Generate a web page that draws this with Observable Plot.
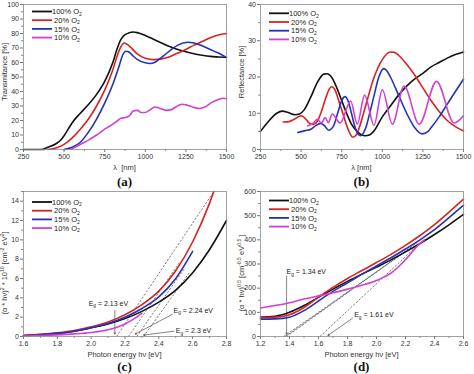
<!DOCTYPE html>
<html>
<head>
<meta charset="utf-8">
<script src="https://cdn.jsdelivr.net/npm/d3@7"></script>
<script src="https://cdn.jsdelivr.net/npm/@observablehq/plot@0.6"></script>
<style>
html, body { margin: 0; padding: 0; background: #fff; }
#root { position: relative; width: 474px; height: 374px; overflow: hidden; }
#root svg { position: absolute; overflow: visible; }
</style>
</head>
<body>
<div id="root"></div>
<script>
// ---------- legend / series ----------
const seriesLabels = ["100% O", " 20% O", " 15% O", " 10% O"];
const seriesColors = ["#111111", "#d82222", "#2233b8", "#d23fd2"];

// ---------- (a) transmittance vs wavelength ----------
const trans100 = [[250,0],[350,0],[375,0.4],[400,1.5],[450,4],[475,6],[500,9.5],[525,14],[550,18.5],[600,25],[650,31],[700,38],[750,47],[800,60],[825,69],[850,76],[875,79.2],[900,80.5],[925,81],[950,80.6],[1000,78.6],[1050,76],[1100,73.5],[1150,71],[1200,69],[1250,67.4],[1300,66],[1350,65],[1400,64.2],[1450,63.8],[1500,63.5]];
const trans20 = [[400,0],[450,1],[500,3.5],[550,8],[600,14],[650,21],[700,30],[750,41],[800,55],[825,64],[850,71],[870,73.5],[900,71.5],[950,66],[1000,63],[1050,62],[1100,62.5],[1150,64],[1200,66.5],[1250,69],[1300,72],[1350,74.5],[1400,77],[1450,79],[1500,80]];
const trans15 = [[500,0],[550,1.5],[600,5],[650,12],[700,21],[750,32],[800,45],[840,58],[860,65],[880,67.8],[900,67.2],[925,64.5],[950,62.2],[1000,59.8],[1030,59.3],[1060,60.2],[1100,63.5],[1150,68],[1200,72],[1260,74],[1300,73.5],[1350,71.5],[1400,69],[1450,66.5],[1500,63.5]];
const trans10 = [[540,0],[575,2],[600,3.5],[650,6.5],[700,10],[750,14],[800,17.5],[825,19.5],[850,21.5],[875,22],[900,23],[925,26.5],[950,27],[975,25.5],[1000,25.5],[1025,27],[1060,29.3],[1100,28],[1130,27],[1160,27.5],[1190,29.5],[1225,31.2],[1260,30.5],[1300,29],[1335,28.3],[1370,29.5],[1410,32.5],[1450,34.5],[1480,35.3],[1500,35]];

// ---------- (b) reflectance vs wavelength ----------
const refl100 = [[250,5],[300,7.8],[350,10],[385,10.6],[420,10.2],[460,9.6],[490,9.8],[520,11],[560,14.5],[600,18.5],[640,20.8],[660,20.9],[690,19.8],[720,17],[750,13.5],[780,10],[810,7],[840,5.2],[870,4.1],[895,3.8],[920,4],[950,5.2],[1000,9],[1050,12],[1100,15],[1150,17.5],[1200,19.5],[1250,21],[1300,22.8],[1350,24],[1400,25.2],[1450,26.2],[1500,26.9]];
const refl20 = [[390,7.6],[425,7.7],[460,8.4],[500,9.3],[525,8.6],[550,7.3],[575,6.9],[600,7.8],[625,10.5],[650,14],[675,16.8],[690,17.3],[710,16.3],[735,13],[760,9.5],[790,5.5],[818,3.4],[840,4],[865,7],[900,12.5],[950,20],[1000,24.8],[1050,26.9],[1075,26.8],[1100,26],[1150,23.5],[1200,20.5],[1250,17],[1300,13.5],[1350,10.5],[1400,8],[1450,6.3],[1500,5.1]];
const refl15 = [[480,4.7],[525,5.2],[560,5.6],[590,6.6],[620,7.2],[645,6.5],[670,5.3],[700,6.5],[725,10],[750,13.5],[770,14.6],[790,13.3],[810,10],[830,6.5],[850,4.3],[865,3.8],[880,4.3],[900,6.2],[925,10.5],[950,15],[975,19.5],[1000,22],[1010,22.3],[1030,21.6],[1050,20],[1100,15],[1150,10],[1200,6],[1245,4.3],[1280,4.9],[1300,6],[1350,9],[1400,12.5],[1450,16],[1500,19.4]];
const refl10 = [[540,6.5],[575,7.3],[600,8.3],[625,7.3],[648,8.8],[668,7.4],[692,9.8],[740,7.3],[805,13.4],[846,7],[891,15],[949,6.7],[1000,16.5],[1062,7],[1134,17.5],[1227,7],[1334,18.8],[1442,7.3],[1500,9.3]];

// ---------- (c) (alpha*hv)^2 vs photon energy ----------
const tauc2_100 = [[1.6,0.1],[1.7,0.2],[1.8,0.32],[1.9,0.55],[2.0,0.9],[2.1,1.3],[2.2,1.85],[2.3,2.6],[2.4,3.55],[2.5,4.8],[2.6,6.6],[2.7,9.0],[2.8,12.0]];
const tauc2_20 = [[1.6,0.1],[1.7,0.22],[1.8,0.38],[1.9,0.62],[2.0,1.0],[2.1,1.5],[2.2,2.25],[2.3,3.3],[2.4,4.7],[2.5,6.8],[2.6,9.8],[2.7,13.8],[2.725,15]];
const tauc2_15 = [[1.6,0.08],[1.7,0.18],[1.8,0.32],[1.9,0.55],[2.0,0.9],[2.1,1.35],[2.2,2.0],[2.3,2.9],[2.4,4.1],[2.5,6.0],[2.6,8.8]];
const tauc2_10 = [[1.6,0.05],[1.7,0.1],[1.8,0.17],[1.9,0.27],[2.0,0.42],[2.1,0.7],[2.2,1.3],[2.25,1.8],[2.3,2.4]];
const cTangents = [[2.15,0,2.725,15],[2.22,0,2.52,7.6],[2.27,0,2.55,7.0],[2.31,0,2.58,6.6]];
const cGapText = ["Eg = 2.13 eV", "Eg = 2.24 eV", "Eg = 2.3 eV"];
const cGapX = [1.985, 2.487, 2.50];
const cGapY = [3.4, 2.7, 0.6];
const cArrows = [[2.14,2.7,2.14,0.25],[2.48,2.3,2.26,0.25],[2.49,0.55,2.31,0.15]];

// ---------- (d) (alpha*hv)^0.5 vs photon energy ----------
const tauc05_100 = [[1.2,80],[1.3,84],[1.35,90],[1.4,100],[1.5,128],[1.6,162],[1.7,196],[1.8,228],[1.9,258],[2.0,287],[2.1,317],[2.2,350],[2.3,385],[2.4,422],[2.5,462],[2.6,505]];
const tauc05_20 = [[1.2,78],[1.3,80],[1.4,90],[1.5,120],[1.6,163],[1.7,203],[1.8,240],[1.9,273],[2.0,306],[2.1,340],[2.2,377],[2.3,418],[2.4,463],[2.5,515],[2.6,568]];
const tauc05_15 = [[1.2,72],[1.3,73],[1.4,80],[1.5,107],[1.6,147],[1.7,187],[1.8,222],[1.9,258],[2.0,292],[2.1,326],[2.2,362],[2.3,400],[2.4,442],[2.5,492],[2.6,543]];
const tauc05_10 = [[1.2,118],[1.3,128],[1.4,140],[1.5,155],[1.6,168],[1.7,181],[1.8,196],[1.9,212],[2.0,232],[2.1,262],[2.2,318],[2.3,385],[2.33,400]];
const dTangents = [[1.36,0,2.2,352],[1.37,0,2.25,372],[1.38,0,2.28,388],[1.61,0,2.31,392]];
const dGapText = ["Eg = 1.34 eV", "Eg = 1.61 eV"];
const dGapX = [1.38, 1.846];
const dGapY = [268, 90];
const dArrows = [[1.38,250,1.38,9],[1.835,76,1.665,4]];

// ---------- axis ticks ----------
const lambdaTicks = [250, 500, 750, 1000, 1250, 1500];
const lambdaMinor = [375, 625, 875, 1125, 1375];
const transTicks = [0, 10, 20, 30, 40, 50, 60, 70, 80, 90, 100];
const transMinor = [5, 15, 25, 35, 45, 55, 65, 75, 85, 95];
const reflTicks = [0, 10, 20, 30, 40];
const reflMinor = [5, 15, 25, 35];
const eTicksC = [1.6, 1.8, 2.0, 2.2, 2.4, 2.6, 2.8];
const eMinorC = [1.7, 1.9, 2.1, 2.3, 2.5, 2.7];
const tauc2Ticks = [0, 2, 4, 6, 8, 10, 12, 14];
const tauc2Minor = [1, 3, 5, 7, 9, 11, 13, 15];
const eTicksD = [1.2, 1.4, 1.6, 1.8, 2.0, 2.2, 2.4, 2.6];
const eMinorD = [1.3, 1.5, 1.7, 1.9, 2.1, 2.3, 2.5];
const tauc05Ticks = [0, 100, 200, 300, 400, 500, 600];
const tauc05Minor = [50, 150, 250, 350, 450, 550];

// ---------- helpers ----------
const SANS = '"Liberation Sans", Arial, sans-serif';
const SERIF = '"Liberation Serif", "Times New Roman", serif';
const W = 237, H = 187, ML = 23, MR = 11, MT = 4, MB = 38;

function richText(sel, segs, base) {
  let cur = 0;
  segs.forEach(seg => {
    const s = typeof seg === "string" ? {t: seg, k: 0} : seg;
    const target = s.k === 1 ? -2.8 : s.k === -1 ? 1.6 : 0;
    const ts = sel.append("tspan").text(s.t);
    if (target !== cur) ts.attr("dy", target - cur);
    if (s.k !== 0) ts.attr("font-size", base * 0.68);
    cur = target;
  });
}

function panel(o) {
  const root = document.getElementById("root");
  const marks = [
    Plot.axisX(o.xMinor, {tickSize: 1.8, tickFormat: () => "", stroke: "#777", label: null}),
    Plot.axisY(o.yMinor, {tickSize: 1.8, tickFormat: () => "", stroke: "#777", label: null}),
    Plot.axisX(o.xTicks, {tickSize: 3, tickPadding: 1.5, tickFormat: o.xFmt, stroke: "#777", fill: "#333", fontSize: 7, label: null}),
    Plot.axisY(o.yTicks, {tickSize: 3, tickPadding: 1.5, tickFormat: o.yFmt, stroke: "#777", fill: "#333", fontSize: 7, label: null}),
    ...(o.extra || []),
    ...o.series.map((s, i) => Plot.line(s, {x: d => d[0], y: d => d[1], stroke: seriesColors[i], strokeWidth: 1.6, curve: "monotone-x"})),
    Plot.frame({stroke: "#8c8c8c", strokeWidth: 0.8})
  ];
  const svgEl = Plot.plot({
    width: W, height: H,
    marginLeft: ML, marginRight: MR, marginTop: MT, marginBottom: MB,
    x: {domain: o.xDomain},
    y: {domain: o.yDomain},
    style: {fontFamily: SANS, fontSize: "7px", background: "transparent", overflow: "visible"},
    marks
  });
  svgEl.style.left = o.left + "px";
  svgEl.style.top = o.top + "px";
  root.appendChild(svgEl);
  const svg = d3.select(svgEl);

  // subscript g in band-gap annotations
  svg.selectAll("text").each(function() {
    const t = this.textContent;
    if (t.startsWith("Eg")) {
      const sel = d3.select(this);
      sel.text(null);
      richText(sel, ["E", {t: "g", k: -1}, t.slice(2)], 7);
    }
  });

  // axis titles
  const cx = ML + (W - ML - MR) / 2;
  const xt = svg.append("text").attr("x", cx).attr("y", o.xTitleY)
    .attr("text-anchor", "middle").attr("font-size", 7.5).attr("fill", "#333").attr("font-family", SANS);
  richText(xt, o.xTitle, 7.5);
  const yt = svg.append("text").attr("transform", `translate(${o.yTitleX},${o.yTitleY}) rotate(-90)`)
    .attr("text-anchor", "middle").attr("font-size", 7.5).attr("fill", "#333").attr("font-family", SANS);
  richText(yt, o.yTitle, 7.5);

  // panel tag
  svg.append("text").attr("x", cx).attr("y", o.tagY).attr("text-anchor", "middle")
    .attr("font-family", SERIF).attr("font-weight", "bold").attr("font-size", 13).attr("fill", "#111").text(o.tag);

  // legend
  const lg = svg.append("g").attr("text-anchor", "start");
  seriesLabels.forEach((lab, i) => {
    const y = o.legendY + i * 8.7;
    lg.append("line").attr("x1", 32).attr("x2", 52).attr("y1", y).attr("y2", y)
      .attr("stroke", seriesColors[i]).attr("stroke-width", 1.8);
    const t = lg.append("text").attr("x", 52).attr("y", y + 2.6).attr("font-size", 7.5)
      .attr("text-anchor", "start")
      .attr("fill", "#222").attr("font-family", SANS).style("white-space", "pre");
    richText(t, [lab, {t: "2", k: -1}], 7.5);
  });
}

const fmtInt = d => String(d);
const fmt1 = d => d.toFixed(1);

panel({
  left: 0, top: 0, xDomain: [250, 1500], yDomain: [0, 100],
  xTicks: lambdaTicks, xMinor: lambdaMinor, yTicks: transTicks, yMinor: transMinor,
  xFmt: fmtInt, yFmt: fmtInt,
  series: [trans100, trans20, trans15, trans10],
  xTitle: ["λ  [nm]"], xTitleY: 169.5,
  yTitle: ["Transmitance [%]"], yTitleX: 7, yTitleY: 72,
  tag: "(a)", tagY: 186, legendY: 11.5
});

panel({
  left: 237, top: 0, xDomain: [250, 1500], yDomain: [0, 40],
  xTicks: lambdaTicks, xMinor: lambdaMinor, yTicks: reflTicks, yMinor: reflMinor,
  xFmt: fmtInt, yFmt: fmtInt,
  series: [refl100, refl20, refl15, refl10],
  xTitle: ["λ [nm]"], xTitleY: 169.5,
  yTitle: ["Reflectance [%]"], yTitleX: 7, yTitleY: 72,
  tag: "(b)", tagY: 186, legendY: 13.3
});

const gapStyle = {textAnchor: "start", lineAnchor: "middle", fontSize: 7, fill: "#222"};

panel({
  left: 0, top: 187, xDomain: [1.6, 2.8], yDomain: [0, 15],
  xTicks: eTicksC, xMinor: eMinorC, yTicks: tauc2Ticks, yMinor: tauc2Minor,
  xFmt: fmt1, yFmt: fmtInt,
  series: [tauc2_100, tauc2_20, tauc2_15, tauc2_10],
  extra: [
    Plot.link(cTangents, {x1: d => d[0], y1: d => d[1], x2: d => d[2], y2: d => d[3], stroke: "#444", strokeWidth: 0.7, strokeDasharray: "2.2,1.6"}),
    Plot.arrow(cArrows, {x1: d => d[0], y1: d => d[1], x2: d => d[2], y2: d => d[3], stroke: "#333", strokeWidth: 0.6, headLength: 4}),
    Plot.text(cGapText, {x: (d, i) => cGapX[i], y: (d, i) => cGapY[i], text: d => d, ...gapStyle})
  ],
  xTitle: ["Photon energy hν [eV]"], xTitleY: 170,
  yTitle: ["(α * hν)", {t: "2", k: 1}, " * 10", {t: "10", k: 1}, " [cm", {t: "-2", k: 1}, " eV", {t: "2", k: 1}, "]"],
  yTitleX: 7, yTitleY: 86,
  tag: "(c)", tagY: 184, legendY: 15
});

panel({
  left: 237, top: 187, xDomain: [1.2, 2.6], yDomain: [0, 600],
  xTicks: eTicksD, xMinor: eMinorD, yTicks: tauc05Ticks, yMinor: tauc05Minor,
  xFmt: fmt1, yFmt: fmtInt,
  series: [tauc05_100, tauc05_20, tauc05_15, tauc05_10],
  extra: [
    Plot.link(dTangents, {x1: d => d[0], y1: d => d[1], x2: d => d[2], y2: d => d[3], stroke: "#444", strokeWidth: 0.7, strokeDasharray: "2.2,1.6"}),
    Plot.arrow(dArrows, {x1: d => d[0], y1: d => d[1], x2: d => d[2], y2: d => d[3], stroke: "#333", strokeWidth: 0.6, headLength: 4}),
    Plot.text(dGapText, {x: (d, i) => dGapX[i], y: (d, i) => dGapY[i], text: d => d, ...gapStyle})
  ],
  xTitle: ["Photon energy hν [eV]"], xTitleY: 170,
  yTitle: ["(α * hν)", {t: "0.5", k: 1}, " [cm", {t: "-0.5", k: 1}, " eV", {t: "0.5", k: 1}, " ]"],
  yTitleX: 7, yTitleY: 86,
  tag: "(d)", tagY: 184, legendY: 13.5
});
</script>
</body>
</html>
